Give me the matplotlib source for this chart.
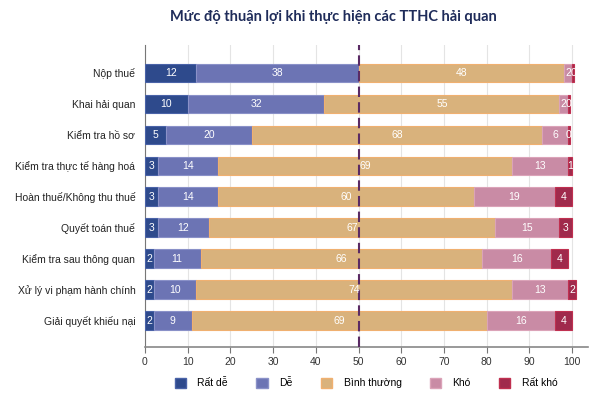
import matplotlib
matplotlib.use("Agg")
import matplotlib.pyplot as plt
from matplotlib.patches import Patch
import numpy as np

categories = ["Nộp thuế", "Khai hải quan", "Kiểm tra hồ sơ", "Kiểm tra thực tế hàng hoá",
              "Hoàn thuế/Không thu thuế", "Quyết toán thuế", "Kiểm tra sau thông quan",
              "Xử lý vi phạm hành chính", "Giải quyết khiếu nại"]
rat_de = [12, 10, 5, 3, 3, 3, 2, 2, 2]
de = [38, 32, 20, 14, 14, 12, 11, 10, 9]
binh_thuong = [48, 55, 68, 69, 60, 67, 66, 74, 69]
kho = [2, 2, 6, 13, 19, 15, 16, 13, 16]
rat_kho = [0.4, 0.5, 0.5, 1, 4, 3, 4, 2, 4]
series_names = ["Rất dễ", "Dễ", "Bình thường", "Khó", "Rất khó"]
colors = ["#2e4a8c", "#6c74b4", "#d9b27c", "#c98ba5", "#a02a4c"]
edges = ["#4a63a8", "#8a91c8", "#f0b070", "#dba3b8", "#c03050"]

plt.rcParams['font.family'] = ['Liberation Sans', 'DejaVu Sans']
fig = plt.figure(figsize=(6, 4), dpi=100)
ax = fig.add_axes([145/600, 1-347/400, (588-145)/600, (347-45)/400])

series = [rat_de, de, binh_thuong, kho, rat_kho]
y = np.arange(len(categories))
left = np.zeros(len(categories))
for vals, c, ec in zip(series, colors, edges):
    vals = np.array(vals, dtype=float)
    ax.barh(y, vals, left=left, height=0.6, color=c, edgecolor=ec, linewidth=0.8, zorder=3)
    for yi, l, v in zip(y, left, vals):
        ax.text(l + v/2, yi, f"{round(v):d}", ha="center", va="center",
                color="white", fontsize=7.5, zorder=6, clip_on=False)
    left += vals

ax.set_ylim(len(categories)-1+0.85, -0.9)
ax.set_xlim(0, 103.7)
ax.set_xticks(range(0, 101, 10))
ax.set_yticks(y)
ax.set_yticklabels(categories, fontsize=7.5, color="#222222")
ax.tick_params(axis="y", length=0, pad=7)
ax.tick_params(axis="x", labelsize=7.5, colors="#333333", length=4, color="#777777")
ax.grid(axis="x", color="#e4e4e4", linewidth=0.8, zorder=0)
for s in ["top", "right"]:
    ax.spines[s].set_visible(False)
ax.spines["left"].set_color("#777777")
ax.spines["bottom"].set_color("#888888")
ax.spines["bottom"].set_linewidth(1.2)
ax.axvline(50, color="#5a2a64", linestyle=(0, (5, 2.5)), linewidth=1.5, zorder=5)

fig.text(333/600, 1-17/400, "Mức độ thuận lợi khi thực hiện các TTHC hải quan",
         ha="center", va="center", fontsize=10.5, fontweight="bold", color="#1f2c5a",
         family=["Lato", "DejaVu Sans"])

handles = [Patch(facecolor=c, edgecolor=ec, label=n) for n, c, ec in zip(series_names, colors, edges)]
fig.legend(handles=handles, loc="center", bbox_to_anchor=(366/600, 1-383/400), ncol=5,
           frameon=False, fontsize=7.5, handlelength=1.1, handleheight=1.1,
           columnspacing=2.7, handletextpad=1.1)

fig.savefig("out.png", dpi=100)
